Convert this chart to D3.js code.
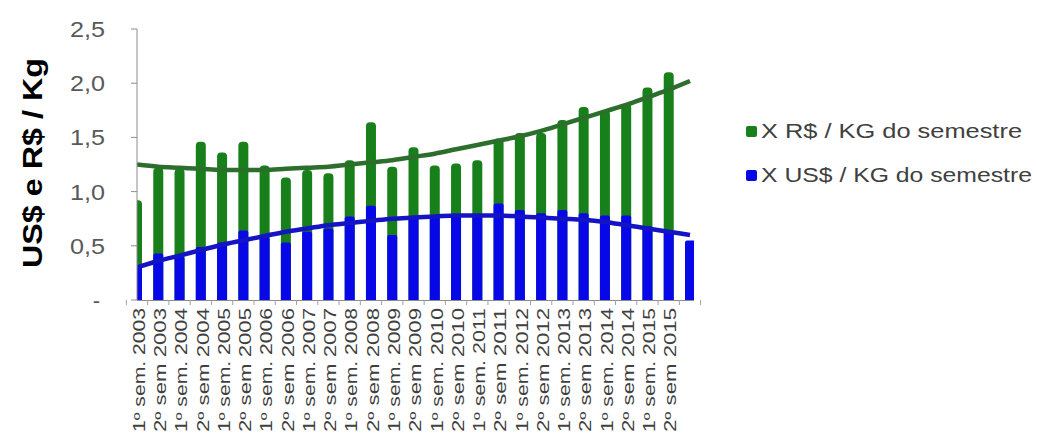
<!DOCTYPE html>
<html lang="pt-br">
<head>
  <meta charset="utf-8" />
  <title>US$ e R$ / Kg</title>
  <script src="https://cdn.jsdelivr.net/npm/d3@7"></script>
  <style>
    html, body { margin: 0; padding: 0; background: #fff; }
    svg { display: block; font-family: "Liberation Sans", Arial, sans-serif; }
  </style>
</head>
<body>
<svg id="chart" width="1037" height="434"></svg>
<script>
// semestres (o ultimo ponto nao tem rotulo)
var categorias = [
  "1º sem. 2003", "2º sem 2003", "1º sem. 2004", "2º sem 2004",
  "1º sem. 2005", "2º sem 2005", "1º sem. 2006", "2º sem 2006",
  "1º sem. 2007", "2º sem 2007", "1º sem. 2008", "2º sem 2008",
  "1º sem. 2009", "2º sem 2009", "1º sem. 2010", "2º sem 2010",
  "1º sem. 2011", "2º sem 2011", "1º sem. 2012", "2º sem 2012",
  "1º sem. 2013", "2º sem 2013", "1º sem. 2014", "2º sem 2014",
  "1º sem. 2015", "2º sem 2015", ""
];
var valoresReal = [0.92, 1.22, 1.21, 1.46, 1.36, 1.46, 1.24, 1.13, 1.20, 1.17, 1.29, 1.64, 1.23,
  1.41, 1.24, 1.26, 1.29, 1.49, 1.54, 1.54, 1.66, 1.78, 1.75, 1.81, 1.96, 2.10, null];
var valoresDolar = [0.31, 0.43, 0.40, 0.49, 0.53, 0.64, 0.58, 0.53, 0.63, 0.66, 0.77, 0.87, 0.60,
  0.77, 0.78, 0.77, 0.78, 0.89, 0.83, 0.80, 0.83, 0.80, 0.78, 0.78, 0.68, 0.63, 0.55];
// linhas de tendencia
var tendenciaReal = [1.25, 1.23, 1.22, 1.21, 1.20, 1.20, 1.20, 1.21, 1.22, 1.23, 1.25, 1.27, 1.29,
  1.32, 1.35, 1.39, 1.43, 1.47, 1.51, 1.56, 1.62, 1.68, 1.74, 1.80, 1.87, 1.94, 2.02];
var tendenciaDolar = [0.30, 0.36, 0.41, 0.46, 0.51, 0.55, 0.59, 0.63, 0.66, 0.69, 0.71, 0.73, 0.75,
  0.76, 0.77, 0.78, 0.78, 0.78, 0.77, 0.76, 0.75, 0.74, 0.72, 0.69, 0.66, 0.63, 0.60];
var ticksY = [0, 0.5, 1.0, 1.5, 2.0, 2.5];
var tickRotulos = ["-", "0,5", "1,0", "1,5", "2,0", "2,5"];
var legendas = ["X R$ / KG do semestre", "X US$ / KG do semestre"];

var verde = "#17801a", azul = "#0707e8";
var verdeLinha = "#2c6e2c", azulLinha = "#1414c4";

var svg = d3.select("#chart");
var x = d3.scalePoint().domain(d3.range(categorias.length)).range([137, 690]);
var y = d3.scaleLinear().domain([0, 2.5]).range([300, 29]);
var larg = 10;

svg.append("defs").append("clipPath").attr("id", "area")
  .append("rect").attr("x", 137).attr("y", 0).attr("width", 557).attr("height", 300);

var plot = svg.append("g").attr("clip-path", "url(#area)");

// barras verdes (R$) e azuis (US$) sobrepostas
plot.selectAll(".real").data(valoresReal).enter()
  .filter(function(d) { return d != null; })
  .append("rect")
    .attr("x", function(d, i) { return x(i) - larg / 2; })
    .attr("y", function(d) { return y(d); })
    .attr("width", larg)
    .attr("height", function(d) { return y(0) - y(d) + 4; })
    .attr("rx", 4)
    .style("fill", verde);

plot.selectAll(".dolar").data(valoresDolar).enter()
  .append("rect")
    .attr("x", function(d, i) { return x(i) - larg / 2; })
    .attr("y", function(d) { return y(d); })
    .attr("width", larg)
    .attr("height", function(d) { return y(0) - y(d) + 4; })
    .attr("rx", 2)
    .style("fill", azul);

var linha = d3.line()
  .x(function(d, i) { return x(i); })
  .y(function(d) { return y(d); })
  .curve(d3.curveMonotoneX);

plot.append("path").datum(tendenciaReal).attr("d", linha)
  .style("fill", "none").style("stroke", verdeLinha).style("stroke-width", 4.5);
plot.append("path").datum(tendenciaDolar).attr("d", linha)
  .style("fill", "none").style("stroke", azulLinha).style("stroke-width", 4.5);

// eixo Y
svg.append("line").attr("x1", 137).attr("x2", 137).attr("y1", y(2.5)).attr("y2", y(0))
  .style("stroke", "#8c8c8c").style("stroke-width", 1);
svg.selectAll(".ty").data(ticksY).enter().append("line")
  .attr("x1", 131).attr("x2", 137)
  .attr("y1", function(d) { return y(d); }).attr("y2", function(d) { return y(d); })
  .style("stroke", "#8c8c8c");
svg.selectAll(".ly").data(ticksY).enter().append("text")
  .attr("x", function(d) { return d === 0 ? 100 : 105; })
  .attr("y", function(d) { return y(d); })
  .attr("dy", "0.36em")
  .attr("text-anchor", "end")
  .attr("textLength", function(d, i) { return d === 0 ? null : 35; })
  .attr("lengthAdjust", "spacingAndGlyphs")
  .style("font-size", "22px").style("fill", "#595959")
  .text(function(d, i) { return tickRotulos[i]; });

svg.append("text")
  .attr("transform", "translate(32,163) rotate(-90)")
  .attr("text-anchor", "middle").attr("dy", "0.36em")
  .attr("textLength", 210).attr("lengthAdjust", "spacingAndGlyphs")
  .style("font-size", "27px").style("font-weight", "bold").style("fill", "#000")
  .text("US$ e R$ / Kg");

// eixo X
svg.append("line").attr("x1", 137).attr("x2", 694).attr("y1", 300.5).attr("y2", 300.5)
  .style("stroke", "#8c8c8c");
svg.selectAll(".tx").data(d3.range(categorias.length + 1)).enter().append("line")
  .attr("x1", function(i) { return 137 + (i - 0.5) * x.step(); })
  .attr("x2", function(i) { return 137 + (i - 0.5) * x.step(); })
  .attr("y1", 300).attr("y2", 305)
  .style("stroke", "#a0a0a0");

svg.selectAll(".lx").data(categorias).enter()
  .filter(function(d) { return d !== ""; })
  .append("text")
    .attr("transform", function(d, i) { return "translate(" + (x(i) + 2) + ",308) rotate(-90)"; })
    .attr("text-anchor", "end").attr("dy", "0.36em")
    .attr("textLength", 124).attr("lengthAdjust", "spacingAndGlyphs")
    .style("font-size", "16px").style("fill", "#404040")
    .text(function(d) { return d; });

// legenda
var leg = svg.append("g");
[verde, azul].forEach(function(c, i) {
  var yy = 131 + i * 44;
  leg.append("rect").attr("x", 746).attr("y", yy - 5).attr("width", 11).attr("height", 11)
    .attr("rx", 2).style("fill", c);
  leg.append("text").attr("x", 761).attr("y", yy).attr("dy", "0.36em")
    .attr("textLength", i === 0 ? 261 : 271).attr("lengthAdjust", "spacingAndGlyphs")
    .style("font-size", "20px").style("fill", "#404040")
    .text(legendas[i]);
});
</script>
</body>
</html>
